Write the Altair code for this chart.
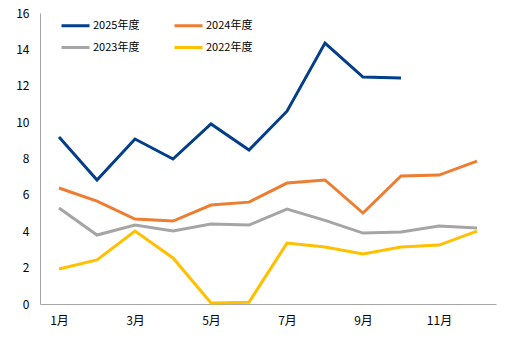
import altair as alt
import pandas as pd

months = ["1月", "2月", "3月", "4月", "5月", "6月", "7月", "8月", "9月", "10月", "11月", "12月"]
series_names = ["2025年度", "2024年度", "2023年度", "2022年度"]
v2025 = [9.18, 6.82, 9.07, 7.97, 9.9, 8.47, 10.6, 14.35, 12.48, 12.42]
v2024 = [6.38, 5.66, 4.67, 4.56, 5.44, 5.6, 6.65, 6.82, 5.0, 7.04, 7.09, 7.86]
v2023 = [5.28, 3.79, 4.34, 4.01, 4.4, 4.34, 5.22, 4.6, 3.9, 3.96, 4.29, 4.18]
v2022 = [1.92, 2.42, 4.01, 2.53, 0.05, 0.1, 3.35, 3.13, 2.75, 3.13, 3.24, 4.01]
colors = ["#023E8A", "#ED7D31", "#A5A5A5", "#FFC000"]
y_ticks = [0, 2, 4, 6, 8, 10, 12, 14, 16]
x_label_months = ["1月", "3月", "5月", "7月", "9月", "11月"]

rows = []
for name, vals in zip(series_names, [v2025, v2024, v2023, v2022]):
    for i, v in enumerate(vals):
        rows.append({"month": months[i], "series": name, "value": v, "order": series_names.index(name)})
df = pd.DataFrame(rows)

font = "Noto Sans CJK SC"

chart = alt.Chart(df).mark_line(strokeWidth=3).encode(
    x=alt.X("month:N", sort=months, scale=alt.Scale(type="point", padding=0.5),
            axis=alt.Axis(title=None, values=x_label_months, ticks=False, labelAngle=0,
                          domainColor="#A6A6A6", labelFont=font, labelFontSize=12,
                          labelColor="#000000", labelPadding=11, grid=False)),
    y=alt.Y("value:Q", scale=alt.Scale(domain=[0, 16], nice=False),
            axis=alt.Axis(title=None, values=y_ticks, ticks=False, grid=False,
                          domainColor="#A6A6A6", labelFont=font, labelFontSize=12,
                          labelColor="#000000", labelPadding=11)),
    color=alt.Color("series:N", sort=series_names,
                    scale=alt.Scale(domain=series_names, range=colors),
                    legend=alt.Legend(title=None, orient="none", legendX=20, legendY=-3,
                                      direction="horizontal",
                                      columns=2, symbolType="stroke", symbolSize=784,
                                      symbolStrokeWidth=3, labelFont=font, labelFontSize=11,
                                      labelColor="#000000", columnPadding=28, rowPadding=-10,
                                      labelOffset=2)),
    order=alt.Order("order:Q", sort="descending"),
).properties(
    width=456, height=291,
    autosize=alt.AutoSizeParams(type="none"),
    padding={"left": 40, "top": 13, "right": 14, "bottom": 37},
).configure(background="white").configure_view(stroke=None)

chart.save("out.html", embed_options={"renderer": "svg", "actions": False})
